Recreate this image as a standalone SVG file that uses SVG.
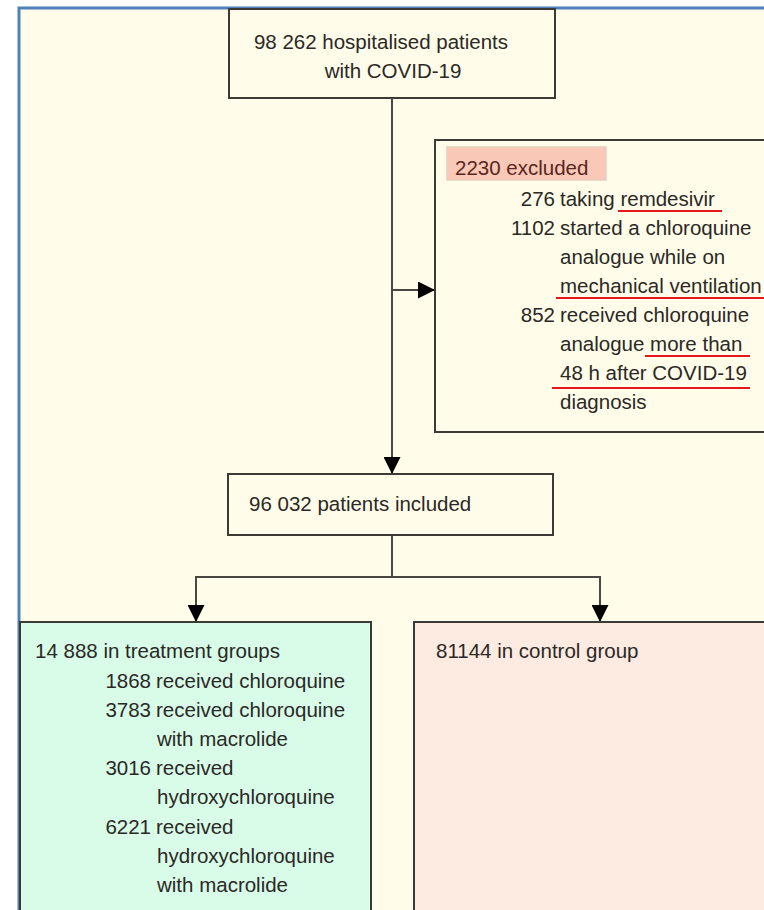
<svg xmlns="http://www.w3.org/2000/svg" width="764" height="910" viewBox="0 0 764 910">
<defs>
<style>
.box{stroke:#3d3a36;stroke-width:2;}
.t{font-family:"Liberation Sans",Arial,sans-serif;font-size:20.5px;fill:#2b2826;}
.n{text-anchor:end;}
.conn{stroke:#4a4642;stroke-width:2;fill:none;}
.ul{stroke:#e3171c;stroke-width:2;}
</style>
<marker id="ah" markerUnits="userSpaceOnUse" markerWidth="17" markerHeight="17" viewBox="0 0 17 17" refX="17" refY="8.5" orient="auto">
<path d="M0,0 L17,8.5 L0,17 Z" fill="#000"/>
</marker>
</defs>
<rect x="0" y="0" width="764" height="910" fill="#ffffff"/>
<rect x="19" y="8" width="760" height="910" fill="#fffde9"/>
<path d="M19,910 V8 H764" fill="none" stroke="#4f81bd" stroke-width="3"/>

<g id="connectors">
<line class="conn" x1="392" y1="98" x2="392" y2="474" marker-end="url(#ah)"/>
<line class="conn" x1="392" y1="290" x2="435" y2="290" marker-end="url(#ah)"/>
<polyline class="conn" points="392,535 392,577 196,577 196,622" marker-end="url(#ah)"/>
<polyline class="conn" points="392,577 600,577 600,622" marker-end="url(#ah)"/>
</g>

<g id="node-hospitalised">
<rect class="box" x="229" y="9" width="326" height="89" fill="#fffde9"/>
<text class="t" x="381" y="49" text-anchor="middle">98 262 hospitalised patients</text>
<text class="t" x="393" y="78" text-anchor="middle">with COVID-19</text>
</g>

<g id="node-excluded">
<rect class="box" x="435" y="140" width="340" height="292" fill="#fffde9"/>
<rect x="447" y="147" width="159" height="33" fill="#f9c8b6" stroke="#e6cfc0" stroke-width="1.5"/>
<text class="t" x="455" y="175" style="fill:#5a2622">2230 excluded</text>
<text class="t n" x="555" y="206">276</text>
<text class="t" x="560" y="206">taking remdesivir</text>
<text class="t n" x="555" y="235">1102</text>
<text class="t" x="560" y="235">started a chloroquine</text>
<text class="t" x="560" y="264">analogue while on</text>
<text class="t" x="560" y="293">mechanical ventilation</text>
<text class="t n" x="555" y="322">852</text>
<text class="t" x="560" y="322">received chloroquine</text>
<text class="t" x="560" y="351">analogue more than</text>
<text class="t" x="560" y="380">48 h after COVID-19</text>
<text class="t" x="560" y="409">diagnosis</text>
<line class="ul" x1="618" y1="211" x2="722" y2="211"/>
<line class="ul" x1="556" y1="298" x2="764" y2="298"/>
<line class="ul" x1="645" y1="356" x2="750" y2="356"/>
<line class="ul" x1="552" y1="388" x2="750" y2="388"/>
</g>

<g id="node-included">
<rect class="box" x="228" y="474" width="325" height="61" fill="#fffde9"/>
<text class="t" x="249" y="511">96 032 patients included</text>
</g>

<g id="node-treatment">
<rect class="box" x="20" y="622" width="351" height="300" fill="#d8fce8"/>
<text class="t" x="35" y="658">14 888 in treatment groups</text>
<text class="t n" x="151" y="688">1868</text>
<text class="t" x="156" y="688">received chloroquine</text>
<text class="t n" x="151" y="717">3783</text>
<text class="t" x="156" y="717">received chloroquine</text>
<text class="t" x="157" y="746">with macrolide</text>
<text class="t n" x="151" y="775">3016</text>
<text class="t" x="156" y="775">received</text>
<text class="t" x="157" y="804">hydroxychloroquine</text>
<text class="t n" x="151" y="834">6221</text>
<text class="t" x="156" y="834">received</text>
<text class="t" x="157" y="863">hydroxychloroquine</text>
<text class="t" x="157" y="892">with macrolide</text>
</g>

<g id="node-control">
<rect class="box" x="414" y="622" width="360" height="300" fill="#fdebe1"/>
<text class="t" x="436" y="658">81144 in control group</text>
</g>
</svg>
